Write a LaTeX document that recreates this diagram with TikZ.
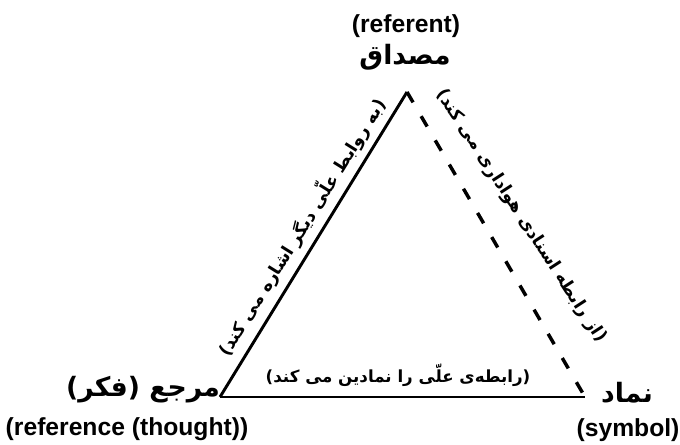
\documentclass[tikz,border=0pt]{standalone}
\usepackage{fontspec}
\setmainfont{Liberation Sans}
\newfontfamily\farsi[Script=Arabic]{DejaVu Sans}
\TeXXeTstate=1
\usetikzlibrary{positioning,calc}

\begin{document}
\begin{tikzpicture}[x=0.75pt,y=-0.75pt,
  side/.style={line width=2.2pt},
  imputed/.style={line width=2.6pt, dash pattern=on 9pt off 12pt},
  latin/.style={font=\fontsize{18.5}{20}\selectfont\bfseries, inner sep=0pt},
  persian/.style={font=\fontsize{20}{24}\selectfont\farsi\bfseries, inner sep=0pt},
  relation/.style={font=\fontsize{13}{16}\selectfont\farsi\bfseries, inner sep=0pt}]
\useasboundingbox (0,0) rectangle (680,445);
% Corners
\coordinate (apex) at (407,92);
\coordinate (thought) at (220,397);
\coordinate (symbol) at (585,397);
% Sides
\draw[side] (thought) -- (apex);
\draw[imputed] (apex) -- (symbol);
\draw[side] (thought) -- (symbol);
% Referent
\node[latin] (referentEn) at (406,26) {(referent)};
\node[persian] (referentFa) at (405,57) {\beginR مصداق\endR};
% Reference
\node[persian] (thoughtFa) at (143,390) {\beginR مرجع (فکر)\endR};
\node[latin] (thoughtEn) at (127,429) {(reference (thought))};
% Symbol
\node[persian] (symbolFa) at (627,393) {\beginR نماد\endR};
\node[latin] (symbolEn) at (628,430) {(symbol)};
% Relations
\node[relation, rotate=58] (causal) at (301,227) {\beginR (به روابط علّی دیگر اشاره می کند)\endR};
\node[relation, rotate=-57] (imputedRel) at (521,216) {\beginR (از رابطه اسنادی هواداری می کند)\endR};
\node[relation, font=\fontsize{12.5}{15}\selectfont\farsi\bfseries] (symbolises) at (398,375) {\beginR (رابطه‌ی علّی را نمادین می کند)\endR};
\end{tikzpicture}
\end{document}
